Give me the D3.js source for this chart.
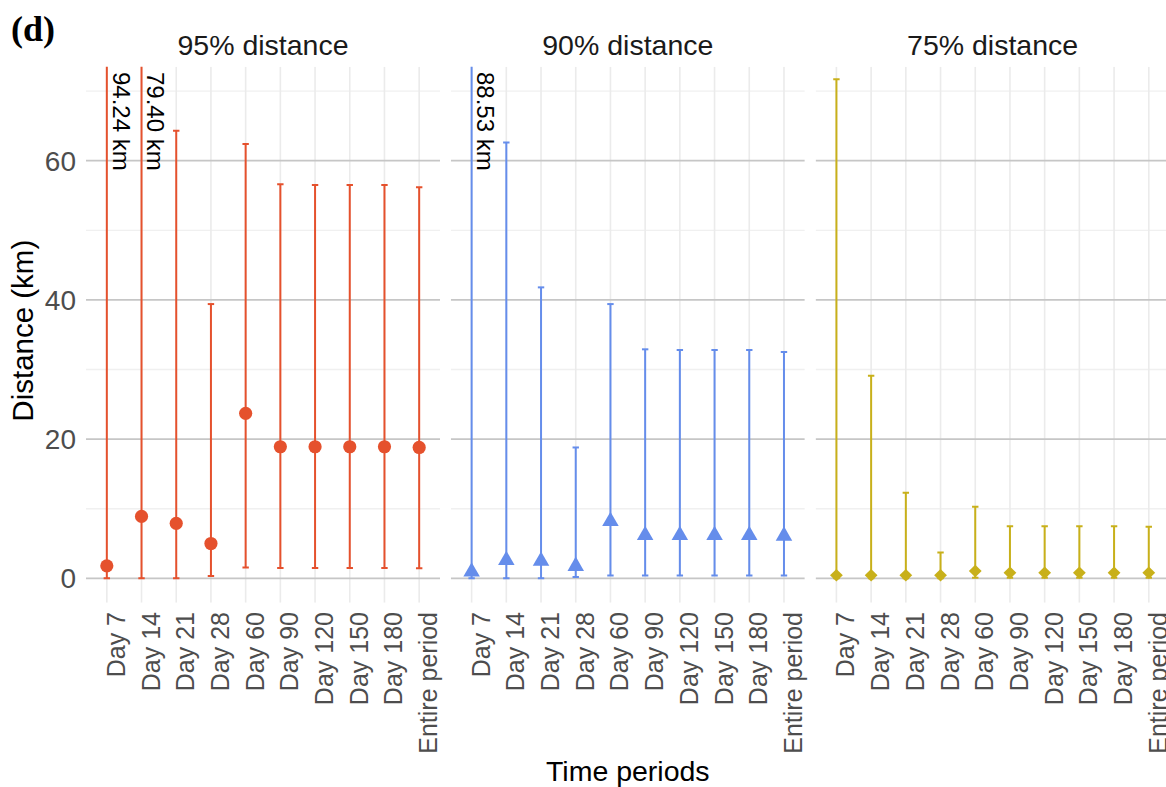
<!DOCTYPE html>
<html>
<head>
<meta charset="utf-8">
<script src="https://cdn.jsdelivr.net/npm/d3@7/dist/d3.min.js"></script>
<style>
  html, body { margin: 0; padding: 0; background: #ffffff; }
  svg { display: block; }
  text { font-family: "Liberation Sans", Arial, Helvetica, sans-serif; }
</style>
</head>
<body>
<svg id="chart" width="1166" height="787"></svg>
<script>
// Time periods along the x axis
const categories = ["Day 7", "Day 14", "Day 21", "Day 28", "Day 60", "Day 90",
                    "Day 120", "Day 150", "Day 180", "Entire period"];

// Panel names
const panelTitles = ["95% distance", "90% distance", "75% distance"];

// 95% distance: estimate and interval (km)
const est95 = [1.8, 8.9, 7.9, 5.0, 23.7, 18.9, 18.9, 18.9, 18.9, 18.8];
const lo95  = [0.0, 0.0, 0.0, 0.35, 1.55, 1.5, 1.5, 1.5, 1.5, 1.45];
const hi95  = [94.24, 79.40, 64.3, 39.4, 62.4, 56.6, 56.5, 56.5, 56.5, 56.2];

// 90% distance
const est90 = [0.95, 2.6, 2.5, 1.75, 8.2, 6.2, 6.2, 6.2, 6.2, 6.1];
const lo90  = [0.0, 0.0, 0.0, 0.2, 0.4, 0.4, 0.4, 0.4, 0.4, 0.4];
const hi90  = [88.53, 62.6, 41.8, 18.8, 39.4, 32.9, 32.8, 32.8, 32.8, 32.5];

// 75% distance
const est75 = [0.45, 0.45, 0.45, 0.45, 1.05, 0.8, 0.8, 0.8, 0.8, 0.8];
const lo75  = [0.0, 0.0, 0.0, 0.0, 0.1, 0.1, 0.1, 0.1, 0.1, 0.1];
const hi75  = [71.7, 29.1, 12.3, 3.7, 10.3, 7.5, 7.5, 7.5, 7.5, 7.4];

const yMajorTicks = [0, 20, 40, 60];
const yMinorTicks = [10, 30, 50, 70];
const yLimits = [0, 70];

const series = [
  { title: panelTitles[0], est: est95, lo: lo95, hi: hi95, color: "#E5512D", shape: "circle" },
  { title: panelTitles[1], est: est90, lo: lo90, hi: hi90, color: "#658DEB", shape: "triangle" },
  { title: panelTitles[2], est: est75, lo: lo75, hi: hi75, color: "#C8B01A", shape: "diamond" }
];

const svg = d3.select("#chart");

// layout
const plotLeft = 86, panelW = 354, panelGap = 10.8;
const plotTop = 66.7, plotBottom = 602.7;

// y range expanded 5% on each side of the limits
const span = yLimits[1] - yLimits[0];
const y = d3.scaleLinear()
  .domain([yLimits[0] - 0.05 * span, yLimits[1] + 0.05 * span])
  .range([plotBottom, plotTop]);

// panel label
svg.append("text")
  .attr("x", 11).attr("y", 41)
  .style("font-family", "'Liberation Serif', 'Times New Roman', serif")
  .style("font-weight", "bold")
  .style("font-size", "36px")
  .attr("fill", "#000")
  .text("(d)");

// y axis tick labels
svg.append("g").selectAll("text")
  .data(yMajorTicks).join("text")
  .attr("x", 76).attr("y", d => y(d))
  .attr("dy", "0.36em")
  .attr("text-anchor", "end")
  .attr("fill", "#4d4d4d")
  .style("font-size", "28px")
  .text(d => d);

// y axis title
svg.append("text")
  .attr("transform", `translate(33, ${(plotTop + plotBottom) / 2 - 4}) rotate(-90)`)
  .attr("text-anchor", "middle")
  .attr("fill", "#000")
  .style("font-size", "29.5px")
  .text("Distance (km)");

// x axis title
svg.append("text")
  .attr("x", plotLeft + (3 * panelW + 2 * panelGap) / 2)
  .attr("y", 780.5)
  .attr("text-anchor", "middle")
  .attr("fill", "#000")
  .style("font-size", "28.5px")
  .text("Time periods");

const defs = svg.append("defs");

series.forEach((s, i) => {
  const x0 = plotLeft + i * (panelW + panelGap);
  const x = d3.scalePoint().domain(categories).range([x0, x0 + panelW]).padding(0.6);

  const clipId = "clip" + i;
  defs.append("clipPath").attr("id", clipId)
    .append("rect")
    .attr("x", x0).attr("y", plotTop)
    .attr("width", panelW).attr("height", plotBottom - plotTop);

  const g = svg.append("g");
  const panel = g.append("g").attr("clip-path", `url(#${clipId})`);

  // minor horizontal grid
  panel.selectAll("line.ymin").data(yMinorTicks).join("line")
    .attr("x1", x0).attr("x2", x0 + panelW)
    .attr("y1", d => y(d)).attr("y2", d => y(d))
    .attr("stroke", "#f0f0f0").attr("stroke-width", 1.3);

  // vertical grid at each period
  panel.selectAll("line.xmaj").data(categories).join("line")
    .attr("x1", d => x(d)).attr("x2", d => x(d))
    .attr("y1", plotTop).attr("y2", plotBottom)
    .attr("stroke", "#ebebeb").attr("stroke-width", 1.6);

  // major horizontal grid
  panel.selectAll("line.ymaj").data(yMajorTicks).join("line")
    .attr("x1", x0).attr("x2", x0 + panelW)
    .attr("y1", d => y(d)).attr("y2", d => y(d))
    .attr("stroke", "#c6c6c6").attr("stroke-width", 1.8);

  const rows = categories.map((c, k) => ({ c, est: s.est[k], lo: s.lo[k], hi: s.hi[k] }));

  // interval lines
  panel.selectAll("line.bar").data(rows).join("line")
    .attr("x1", d => x(d.c)).attr("x2", d => x(d.c))
    .attr("y1", d => y(d.lo)).attr("y2", d => y(d.hi))
    .attr("stroke", s.color).attr("stroke-width", 2);

  // caps
  const capHalf = 3.2;
  ["lo", "hi"].forEach(key => {
    panel.selectAll("line.cap" + key).data(rows).join("line")
      .attr("x1", d => x(d.c) - capHalf).attr("x2", d => x(d.c) + capHalf)
      .attr("y1", d => y(d[key])).attr("y2", d => y(d[key]))
      .attr("stroke", s.color).attr("stroke-width", 2);
  });

  // point estimates
  let symbolPath;
  if (s.shape === "circle") {
    symbolPath = d3.symbol().type(d3.symbolCircle).size(Math.PI * 6.6 * 6.6)();
  } else if (s.shape === "triangle") {
    symbolPath = d3.symbol().type(d3.symbolTriangle).size(118)();
  } else {
    symbolPath = "M0,-6.2L6.4,0L0,6.2L-6.4,0Z";
  }
  panel.selectAll("path.pt").data(rows).join("path")
    .attr("transform", d => `translate(${x(d.c)},${y(d.est)})`)
    .attr("d", symbolPath)
    .attr("fill", s.color);

  // labels for intervals reaching beyond the plotted range
  g.selectAll("text.over").data(rows.filter(d => d.hi > yLimits[1] + 0.05 * span)).join("text")
    .attr("transform", d => `translate(${x(d.c) + 5.8}, 72) rotate(90)`)
    .attr("text-anchor", "start")
    .attr("fill", "#000")
    .style("font-size", "24px")
    .text(d => d.hi.toFixed(2) + " km");

  // panel title
  g.append("text")
    .attr("x", x0 + panelW / 2).attr("y", 55)
    .attr("text-anchor", "middle")
    .attr("fill", "#1a1a1a")
    .style("font-size", "28.5px")
    .text(s.title);

  // x tick labels
  g.selectAll("text.xt").data(categories).join("text")
    .attr("transform", d => `translate(${x(d) + 18}, 612) rotate(-90)`)
    .attr("text-anchor", "end")
    .attr("fill", "#4d4d4d")
    .style("font-size", "25px")
    .text(d => d);
});
</script>
</body>
</html>
